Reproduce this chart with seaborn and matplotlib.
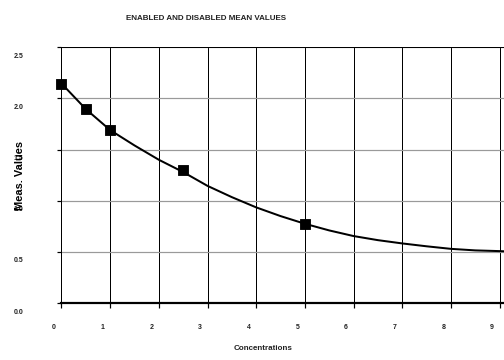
import matplotlib
matplotlib.use("Agg")
import matplotlib.pyplot as plt
import matplotlib.transforms as mtransforms
import pandas as pd
import seaborn as sns

conc = [0.0, 0.5, 1.0, 2.5, 5.0]
meas = [2.145, 1.895, 1.69, 1.30, 0.775]

# smoothed trend line, read at regular steps
curve_x = [0.0, 0.5, 1.0, 1.5, 2.0, 2.5, 3.0, 3.5, 4.0, 4.5, 5.0,
           5.5, 6.0, 6.5, 7.0, 7.5, 8.0, 8.5, 9.0, 9.1]
curve_y = [2.145, 1.895, 1.69, 1.54, 1.40, 1.28, 1.145, 1.035, 0.935, 0.85, 0.775,
           0.71, 0.655, 0.615, 0.583, 0.555, 0.53, 0.515, 0.508, 0.506]

x_ticks = [0, 1, 2, 3, 4, 5, 6, 7, 8, 9]
y_ticks = [0.0, 0.5, 1.0, 1.5, 2.0, 2.5]

df_pts = pd.DataFrame({"Concentrations": conc, "Meas. Values": meas})
df_curve = pd.DataFrame({"x": curve_x, "y": curve_y})

sns.set_style("ticks")
plt.rcParams["font.family"] = ["Liberation Sans", "DejaVu Sans"]
plt.rcParams["xtick.bottom"] = True
plt.rcParams["ytick.left"] = True

fig = plt.figure(figsize=(7, 5), dpi=72)
ax = fig.add_axes([0.122, 0.158, 0.878, 0.711])

sns.lineplot(data=df_curve, x="x", y="y", color="black", linewidth=2, ax=ax, zorder=3)
sns.scatterplot(data=df_pts, x="Concentrations", y="Meas. Values", marker="s", s=115,
                color="black", edgecolor="black", ax=ax, zorder=4, clip_on=False)

ax.set_xlim(0, 9.09)
ax.set_ylim(0, 2.5)
ax.set_xticks(x_ticks)
ax.set_yticks(y_ticks)
ax.set_xticklabels([str(t) for t in x_ticks])
ax.set_yticklabels(["%.1f" % t for t in y_ticks])

ax.xaxis.grid(True, color="black", linewidth=1)
ax.yaxis.grid(True, color="#9a9a9a", linewidth=1.2)
ax.set_axisbelow(True)

for s in ["left", "top"]:
    ax.spines[s].set_visible(True)
    ax.spines[s].set_color("black")
    ax.spines[s].set_linewidth(1)
ax.spines["right"].set_visible(False)
ax.spines["bottom"].set_color("black")
ax.spines["bottom"].set_linewidth(2.2)

ax.tick_params(axis="x", bottom=True, direction="out", length=5, width=1.2, color="black",
               pad=16, labelsize=7, labelcolor="#222222")
ax.tick_params(axis="y", left=True, direction="out", length=4, width=1.2, color="black",
               pad=34, labelsize=7, labelcolor="#222222")
for lab in ax.get_xticklabels():
    lab.set_fontweight("bold")
    lab.set_transform(lab.get_transform() + mtransforms.ScaledTranslation(-7.5 / 72, 0, fig.dpi_scale_trans))
for lab in ax.get_yticklabels():
    lab.set_fontweight("bold")
    lab.set_transform(lab.get_transform() + mtransforms.ScaledTranslation(0, -8 / 72, fig.dpi_scale_trans))

ax.set_xlabel("Concentrations", fontsize=8, fontweight="bold", color="#222222")
ax.xaxis.set_label_coords(0.455, -0.165)
ax.set_ylabel("Meas. Values", fontsize=11, fontweight="bold", color="black")
ax.yaxis.set_label_coords(-0.083, 0.5)

fig.text(206 / 504, 1 - 18 / 360, "ENABLED AND DISABLED MEAN VALUES",
         ha="center", va="center", fontsize=8, fontweight="bold", color="#222222")

fig.savefig("out.png", dpi=72)
